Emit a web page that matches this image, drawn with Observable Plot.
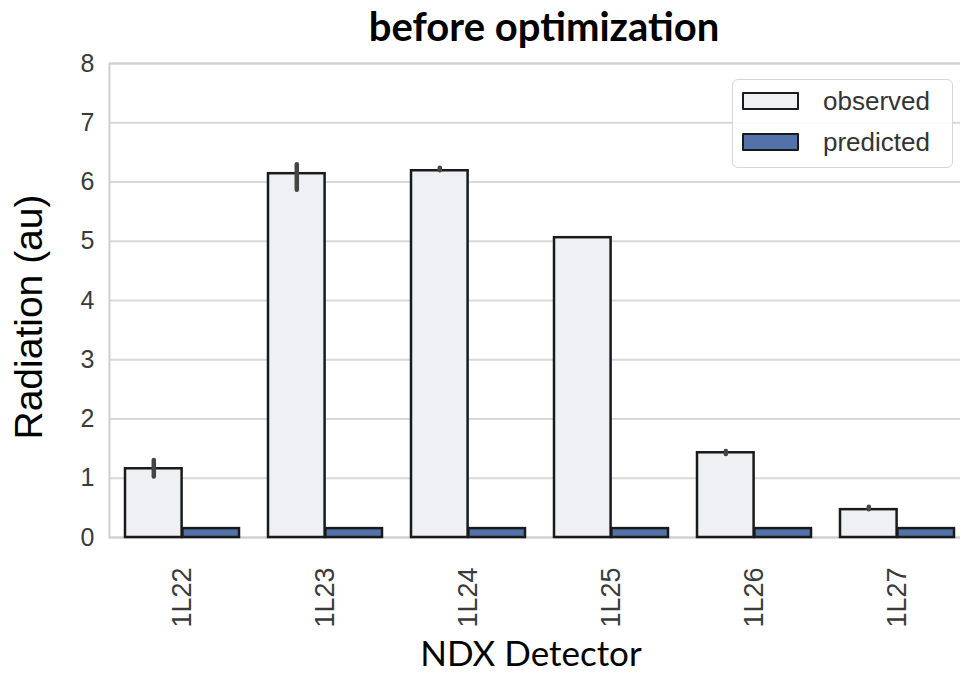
<!DOCTYPE html>
<html>
<head>
<meta charset="utf-8">
<script src="https://cdn.jsdelivr.net/npm/d3@7"></script>
<script src="https://cdn.jsdelivr.net/npm/@observablehq/plot@0.6"></script>
<style>
  html, body { margin: 0; padding: 0; background: #fff; overflow: hidden; }
  #wrap { position: relative; width: 960px; height: 673px; overflow: hidden; }
  #chart { position: absolute; left: 0; top: 0; width: 972px; }
  #chart svg { max-width: none !important; width: 972px; height: 673px; }
  #title {
    position: absolute; left: 0; top: 2px; width: 1088px; text-align: center;
    font: bold 40px Lato, "Open Sans", sans-serif; color: #000;
  }
  #ylabel {
    position: absolute; left: 29px; top: 317px; transform: translate(-50%, -50%) rotate(-90deg);
    font: 39px "Liberation Sans", Arial, sans-serif; color: #000; white-space: nowrap;
  }
  #xlabel {
    position: absolute; left: 0; top: 631px; width: 1062px; text-align: center;
    font: 35px Lato, "Open Sans", sans-serif; color: #000;
  }
  #legend {
    position: absolute; left: 732px; top: 79px; width: 219px; height: 87px;
    border: 1px solid #d6d6d6; border-radius: 6px; background: rgba(255,255,255,0.85);
    font: 26px "Liberation Sans", Arial, sans-serif; color: #333;
  }
  .item { position: absolute; left: 9px; height: 30px; display: flex; align-items: center; }
  .sw { width: 57px; height: 18px; border: 2px solid #1a1a1a; box-sizing: border-box; border-radius: 1px; margin-right: 24px; }
</style>
</head>
<body>
<div id="wrap">
  <div id="chart"></div>
  <div id="title">before optimization</div>
  <div id="ylabel">Radiation (au)</div>
  <div id="xlabel">NDX Detector</div>
  <div id="legend"></div>
</div>
<script>
// Detectors along the x axis
const detectors = ["1L22", "1L23", "1L24", "1L25", "1L26", "1L27"];
// Mean observed radiation and its confidence interval
const observed = [1.16, 6.14, 6.19, 5.06, 1.43, 0.47];
const observedLow = [1.02, 5.86, 6.19, 5.06, 1.40, 0.47];
const observedHigh = [1.30, 6.29, 6.23, 5.06, 1.45, 0.51];
// Predicted radiation
const predicted = [0.15, 0.15, 0.15, 0.15, 0.15, 0.15];
// Y axis ticks
const yTicks = [0, 1, 2, 3, 4, 5, 6, 7, 8];

const series = ["observed", "predicted"];
const colors = ["#eef0f3", "#5372a9"];

const obsRows = detectors.map((d, i) => ({detector: d, value: observed[i], lo: observedLow[i], hi: observedHigh[i]}));
const predRows = detectors.map((d, i) => ({detector: d, value: predicted[i]}));
const errRows = obsRows.filter(r => r.hi > r.lo);

const width = 972, marginLeft = 109, marginRight = 2;
const paddingInner = 0.2, paddingOuter = 0.1;
const step = (width - marginLeft - marginRight) / (detectors.length - paddingInner + 2 * paddingOuter);
const half = step * (1 - paddingInner) / 2; // each bar takes half of the group

const plot = Plot.plot({
  width,
  height: 673,
  marginLeft,
  marginRight,
  marginTop: 63,
  marginBottom: 136,
  style: {fontFamily: "'Liberation Sans', Arial, sans-serif", fontSize: "25px", color: "#3a3a3a", background: "transparent"},
  x: {domain: detectors, paddingInner, paddingOuter, label: null, tickSize: 0, tickPadding: 30, tickRotate: -90},
  y: {domain: [0, 8], ticks: yTicks, label: null, tickSize: 0, tickPadding: 15, tickFormat: d3.format("d")},
  marks: [
    Plot.ruleY(yTicks, {stroke: "#d9d9d9", strokeWidth: 2}),
    Plot.frame({stroke: "#cfcfcf", strokeWidth: 2}),
    Plot.barY(obsRows, {x: "detector", y: "value", fill: colors[0], stroke: "#1a1a1a", strokeWidth: 2.5, insetRight: half}),
    Plot.barY(predRows, {x: "detector", y: "value", fill: colors[1], stroke: "#1a1a1a", strokeWidth: 2.5, insetLeft: half}),
    Plot.ruleX(errRows, {x: "detector", y1: "lo", y2: "hi", dx: -half / 2, stroke: "#444", strokeWidth: 4.5, strokeLinecap: "round"})
  ]
});
document.getElementById("chart").appendChild(plot);

// Larger rotated labels for the detector names
d3.select(plot).selectAll("[aria-label='x-axis tick label'] text, g[aria-label='x-axis'] text").style("font-size", "27px");

// Legend
const legend = document.getElementById("legend");
series.forEach((s, i) => {
  const item = document.createElement("div");
  item.className = "item";
  item.style.top = (6 + i * 41) + "px";
  const sw = document.createElement("div");
  sw.className = "sw";
  sw.style.background = colors[i];
  const label = document.createElement("span");
  label.textContent = s;
  item.appendChild(sw);
  item.appendChild(label);
  legend.appendChild(item);
});
</script>
</body>
</html>
